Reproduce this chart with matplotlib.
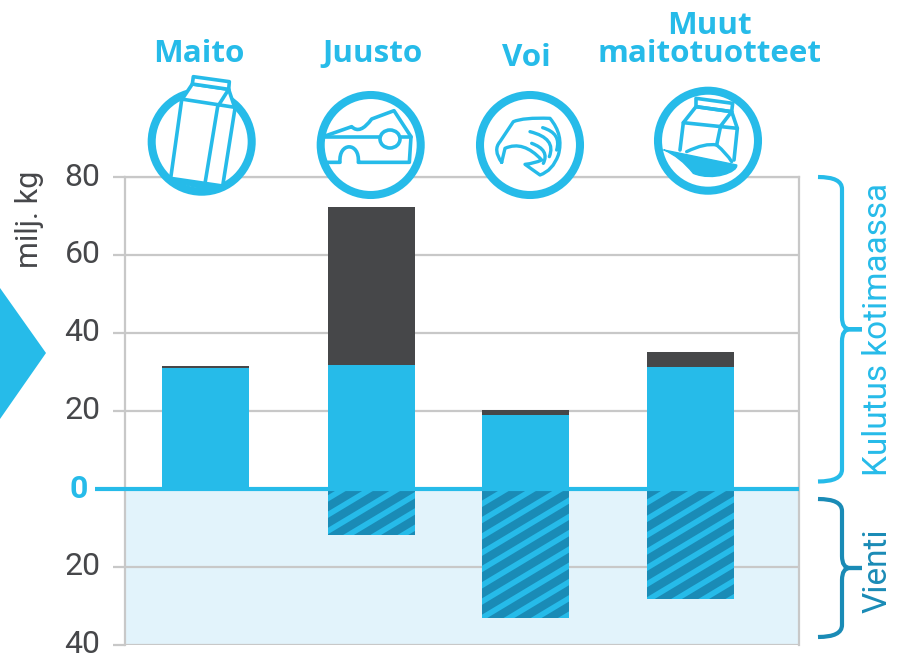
import matplotlib
matplotlib.use("Agg")
import matplotlib.pyplot as plt
from matplotlib.path import Path
from matplotlib.patches import PathPatch, Circle, Ellipse, Polygon
from matplotlib.transforms import ScaledTranslation
import numpy as np

categories = ["Maito", "Juusto", "Voi", "Muut\nmaitotuotteet"]
domestic_own = [31.0, 31.8, 19.0, 31.3]
domestic_import = [0.5, 40.6, 1.1, 3.7]
export = [0.0, 12.0, 33.2, 28.2]
tick_values = [-40, -20, 0, 20, 40, 60, 80]
tick_labels = ["40", "20", "0", "20", "40", "60", "80"]
bar_positions = [0.0, 0.99, 1.905, 2.885]

BLUE = "#26bbe9"
DARK = "#464749"
DEEP = "#1a8bb6"
SHADE = "#e2f3fb"
GRID = "#c8c8c8"
TXT = "#46474a"
W, H = 897, 656
plt.rcParams["font.family"] = ["Roboto", "DejaVu Sans"]

fig = plt.figure(figsize=(W / 100, H / 100), dpi=100)
ax = fig.add_axes([125 / W, 1 - 644.5 / H, (799 - 125) / W, (644.5 - 177) / H])
ax.set_ylim(-40, 80)
unit = (690.5 - 205.5) / 2.885
ax.set_xlim(-(205.5 - 125) / unit, (799 - 205.5) / unit)
bar_w = 87 / unit

ax.axhspan(-40, 0, color=SHADE, lw=0, zorder=0)
ax.set_yticks(tick_values, tick_labels)
ax.set_xticks([])
ax.grid(axis="y", color=GRID, lw=1.6, zorder=1)
ax.spines["bottom"].set_visible(False)
for s in ["left", "top", "right"]:
    ax.spines[s].set_color(GRID)
    ax.spines[s].set_linewidth(1.6)
ax.tick_params(axis="y", length=8.6, width=1.6, color=GRID, pad=9, labelsize=23, labelcolor=TXT)
lift = ScaledTranslation(0, 3 / 100, fig.dpi_scale_trans)
for tick, v in zip(ax.yaxis.get_major_ticks(), tick_values):
    if v == 0:
        tick.tick1line.set_visible(False)
        tick.set_pad(18)
        tick.label1.set_color(BLUE)
        tick.label1.set_fontweight("bold")
    tick.label1.set_transform(tick.label1.get_transform() + lift)
ax.bar(bar_positions, domestic_own, bar_w, color=BLUE, zorder=3)
ax.bar(bar_positions, domestic_import, bar_w, bottom=domestic_own, color=DARK, zorder=3)
neg = ax.bar(bar_positions, [-v for v in export], bar_w, color=DEEP, zorder=3)

ov = fig.add_axes([0, 0, 1, 1], facecolor="none")
ov.set_xlim(0, W)
ov.set_ylim(H, 0)
ov.axis("off")

for b in neg:
    if b.get_height() == 0:
        continue
    for c in np.arange(480, 1000, 16.3):
        ln, = ax.plot([250, 800], [c, c - 550 * 0.6], color=BLUE, lw=4.0, zorder=4,
                      solid_capstyle="butt", transform=ov.transData)
        ln.set_clip_path(b)
ax.plot([-30 / 674, 1], [0, 0], color=BLUE, lw=3, zorder=5, clip_on=False,
        solid_capstyle="butt", transform=ax.get_yaxis_transform())


def lines(ox, oy, pts, closed=False, fc="none", lw=2.6, ec=BLUE, z=8):
    p = [(ox + x / 3, oy + y / 3) for x, y in pts]
    if closed:
        ov.add_patch(Polygon(p, closed=True, fc=fc, ec=ec, lw=lw, zorder=z, joinstyle="round"))
    else:
        ov.plot(*zip(*p), color=ec, lw=lw, zorder=z, solid_capstyle="round", solid_joinstyle="round")


def curve(ox, oy, pts, codes, fc="none", lw=2.6, z=9):
    p = [(ox + x / 3, oy + y / 3) for x, y in pts]
    ov.add_patch(PathPatch(Path(p, codes), fc=fc, ec=BLUE, lw=lw, zorder=z, capstyle="round", joinstyle="round"))


M, L, C3, C4 = Path.MOVETO, Path.LINETO, Path.CURVE3, Path.CURVE4
for cx, cy in [(201.7, 141.7), (370.7, 145), (530, 145), (708, 140.7)]:
    ov.add_patch(Circle((cx, cy), 50, fc="white", ec=BLUE, lw=5.8, zorder=7))

# milk carton
ox, oy = 130, 0
lines(ox, oy, [(122, 535), (155, 300), (187, 252), (296, 268), (315, 325), (278, 558)], True, "white")
lines(ox, oy, [(190, 230), (298, 245), (296, 268), (187, 252)], True, "white")
lines(ox, oy, [(160, 298), (315, 322)])
lines(ox, oy, [(296, 268), (263, 320), (225, 550)])
curve(ox, oy, [(122, 537), (278, 558), (210, 578), (122, 537)], [M, L, C3, C3], fc=BLUE, lw=1)

# cheese
curve(ox, oy, [(585, 408), (665, 380), (690, 405), (725, 357), (792, 332), (843, 410), (838, 487),
               (685, 487), (690, 425), (625, 425), (630, 487), (585, 487)],
      [M, L, C3, C3, L, L, L, L, C4, C4, C4, L], lw=2.6)
lines(ox, oy, [(585, 410), (843, 410)])
ov.add_patch(Ellipse((ox + 780 / 3, 417 / 3), 20, 18, fc="white", ec=BLUE, lw=2.6, zorder=10))

# butter
ox, oy = 460, 0
curve(ox, oy, [(125, 487), (98, 450), (120, 425), (160, 365), (190, 352), (270, 355), (312, 405),
               (295, 465), (278, 512), (240, 525), (195, 493), (225, 490), (245, 480),
               (190, 420), (135, 445), (125, 487)],
      [M, C3, C3, L, C3, C3, C3, C3, C3, C3, L, C3, C3, C3, C3, L], lw=2.4)
curve(ox, oy, [(248, 383), (305, 400), (290, 450)], [M, C3, C3], lw=2.4)
curve(ox, oy, [(210, 395), (290, 415), (268, 470)], [M, C3, C3], lw=2.4)
curve(ox, oy, [(215, 430), (270, 450), (250, 490)], [M, C3, C3], lw=2.4)

# other products
lines(ox, oy, [(660, 450), (670, 368), (708, 320), (815, 335), (832, 385), (822, 480)])
lines(ox, oy, [(708, 295), (818, 310), (815, 335), (708, 320)], True)
lines(ox, oy, [(670, 368), (832, 385)])
lines(ox, oy, [(815, 335), (782, 378), (770, 435)])
curve(ox, oy, [(680, 455), (735, 428), (770, 435), (800, 460), (815, 485)], [M, C3, C3, C3, C3], lw=2.4)
curve(ox, oy, [(612, 450), (830, 495), (835, 515), (760, 545), (700, 520), (660, 470), (612, 450)],
      [M, L, C4, C4, C4, C3, C3], fc=BLUE, lw=1)

# left arrow
ov.add_patch(Polygon([(0, 288), (46, 353), (0, 419)], fc=BLUE, ec="none", zorder=6))


def bracket(top, bottom, color):
    x0, x1, tip, r = 818, 842, 862, 12
    mid = (top + bottom) / 2
    pts = [(x0, top), (x1, top), (x1, top + r), (x1, mid - r), (x1, mid), (x1 + 8, mid), (tip, mid),
           (x1 + 8, mid), (x1, mid), (x1, mid + r), (x1, bottom - r), (x1, bottom), (x0, bottom)]
    codes = [M, C3, C3, L, C3, C3, L, L, C3, C3, L, C3, C3]
    ov.add_patch(PathPatch(Path(pts, codes), fc="none", ec=color, lw=3, zorder=6))


bracket(177, 481.5, BLUE)
bracket(499, 637, DEEP)

ov.text(878, 329, "Kulutus kotimaassa", rotation=90, ha="center", va="center", fontsize=24, color=BLUE)
ov.text(878, 571, "Vienti", rotation=90, ha="center", va="center", fontsize=24, color=DEEP)
ov.text(30, 219, "milj. kg", rotation=90, ha="center", va="center", fontsize=22, color=TXT)

title_x = [199, 372, 526, 709]
title_y = [54, 54, 58, 40]
for name, x, y in zip(categories, title_x, title_y):
    ov.text(x, y, name, ha="center", va="center", fontsize=22.6, fontweight="bold", color=BLUE,
            family="Open Sans", linespacing=0.95)

fig.savefig("out.png", dpi=100)
